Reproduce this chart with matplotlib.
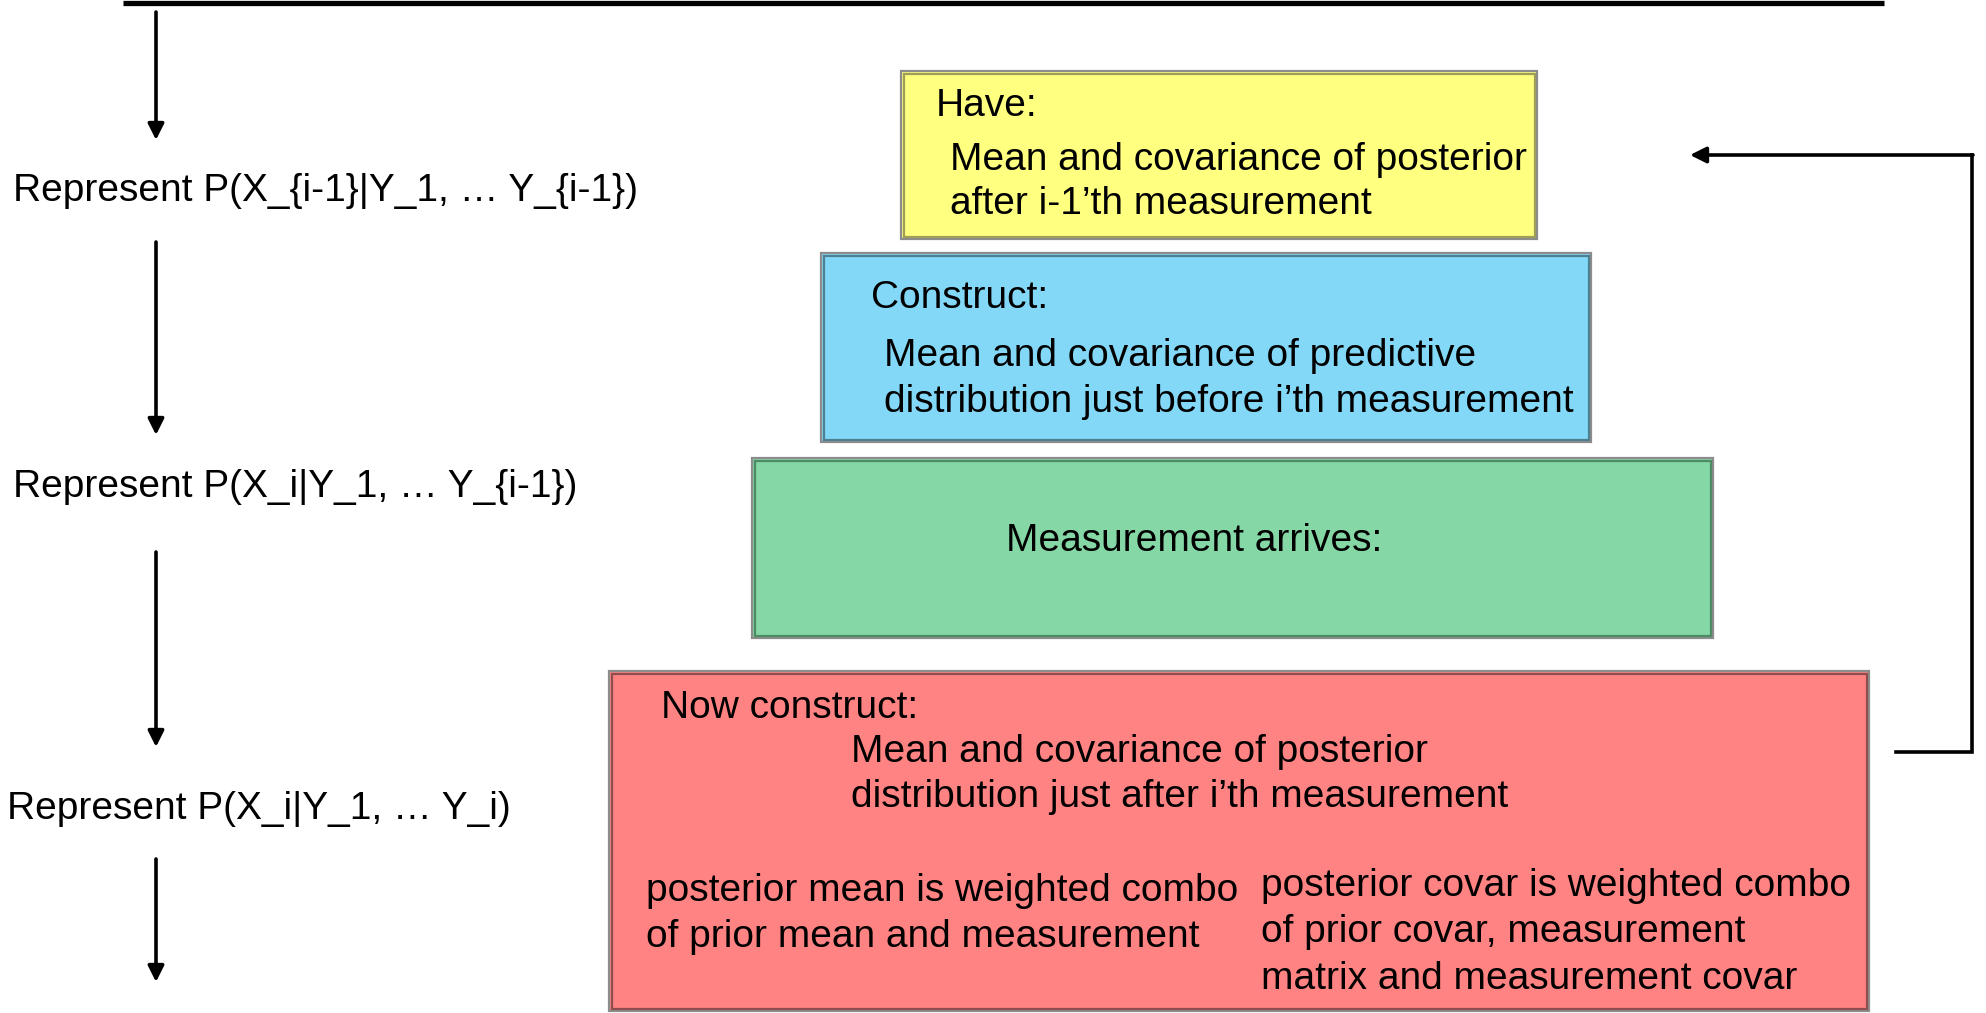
import matplotlib
matplotlib.use("Agg")
import matplotlib.pyplot as plt
from matplotlib.patches import Rectangle

plt.rcParams['font.family'] = ['Liberation Sans', 'DejaVu Sans']

W, H = 1986, 1013

# left column: state labels and the down arrows between them
state_labels = ["Represent P(X_{i-1}|Y_1, \u2026 Y_{i-1})",
                "Represent P(X_i|Y_1, \u2026 Y_{i-1})",
                "Represent P(X_i|Y_1, \u2026 Y_i)"]
state_pos = [(13, 191), (13, 487), (7, 809)]
down_arrows = [(12, 140), (242, 435), (552, 747), (859, 982)]
arrow_x = 156

# boxes: (x0, y0, x1, y1), fill, inner edge
boxes = [(901, 71, 1537, 239),
         (821, 253, 1591, 442),
         (752, 458, 1713, 638),
         (609, 671, 1869, 1011)]
box_fill = ['#FFFF80', '#83D8F7', '#85D8A6', '#FF8383']
box_edge = ['#9E9E5A', '#4E7F90', '#4F8A66', '#8E4E4E']

# box texts: (x, y, text, ha)
box_texts = [
    (936, 106, "Have:", 'left'),
    (950, 160, "Mean and covariance of posterior", 'left'),
    (950, 204, "after i-1\u2019th measurement", 'left'),
    (871, 298, "Construct:", 'left'),
    (884, 356, "Mean and covariance of predictive", 'left'),
    (884, 402, "distribution just before i\u2019th measurement", 'left'),
    (1194, 541, "Measurement arrives:", 'center'),
    (661, 708, "Now construct:", 'left'),
    (851, 752, "Mean and covariance of posterior", 'left'),
    (851, 797, "distribution just after i\u2019th measurement", 'left'),
    (646, 891, "posterior mean is weighted combo", 'left'),
    (646, 937, "of prior mean and measurement", 'left'),
    (1261, 886, "posterior covar is weighted combo", 'left'),
    (1261, 932, "of prior covar, measurement", 'left'),
    (1261, 979, "matrix and measurement covar", 'left'),
]

# feedback loop from red box back to yellow box
loop_x = 1972
loop_top = 155
loop_bottom = 752
loop_start = 1896
loop_tip = 1690

FS = 28

fig = plt.figure(figsize=(W / 100, H / 100), dpi=100)
ax = fig.add_axes([0, 0, 1, 1])
ax.set_xlim(0, W)
ax.set_ylim(H, 0)
ax.axis('off')

# top rule
ax.plot([123, 1884], [2.5, 2.5], color='black', lw=3.8, solid_capstyle='butt')

for (y0, y1) in down_arrows:
    ax.annotate('', xy=(arrow_x, y1), xytext=(arrow_x, y0),
                arrowprops=dict(arrowstyle='-|>', mutation_scale=24, lw=2.6,
                                color='black', shrinkA=0, shrinkB=0))

for (x, y), s in zip(state_pos, state_labels):
    ax.text(x, y, s, fontsize=FS, ha='left', va='center')

for (x0, y0, x1, y1), fc, ec in zip(boxes, box_fill, box_edge):
    ax.add_patch(Rectangle((x0, y0), x1 - x0, y1 - y0, facecolor=fc,
                           edgecolor='#8C8C8C', lw=1.6, zorder=2))
    ax.add_patch(Rectangle((x0 + 2.5, y0 + 2.5), x1 - x0 - 5, y1 - y0 - 5,
                           facecolor='none', edgecolor=ec, lw=1.6, zorder=3))

for x, y, s, ha in box_texts:
    ax.text(x, y, s, fontsize=FS, ha=ha, va='center', zorder=4)

ax.plot([loop_start, loop_x, loop_x], [loop_bottom, loop_bottom, loop_top],
        color='black', lw=2.6, solid_joinstyle='miter')
ax.annotate('', xy=(loop_tip, loop_top), xytext=(loop_x + 1, loop_top),
            arrowprops=dict(arrowstyle='-|>', mutation_scale=24, lw=2.6,
                            color='black', shrinkA=0, shrinkB=0))

fig.savefig('out.png', dpi=100)
